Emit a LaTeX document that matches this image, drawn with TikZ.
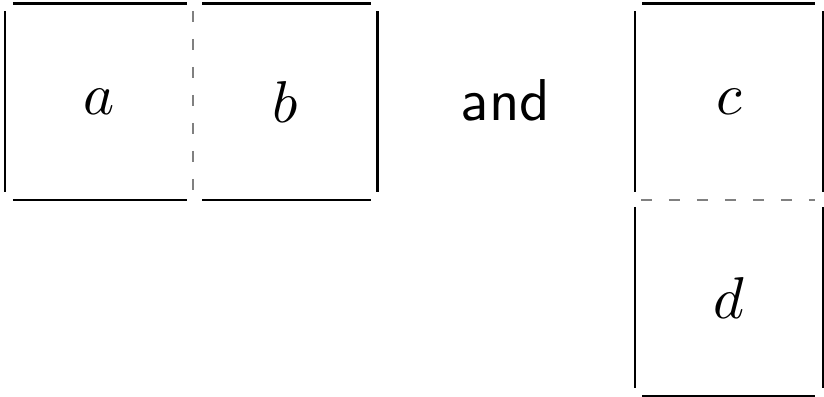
\documentclass[tikz,border=0pt]{standalone}
\usepackage{tikz}
\usetikzlibrary{calc,positioning}

\begin{document}
\begin{tikzpicture}[
    x=0.1695pt, y=-0.1695pt,
    cell/.style={inner sep=0pt, outer sep=0pt, minimum width=31.87pt, minimum height=33.3pt, font=\normalsize},
    side/.style={line width=0.5pt},
    seam/.style={line width=0.34pt, gray, dash pattern=on 1.86pt off 2.88pt}
  ]
    \useasboundingbox (0,0) rectangle (824,396);
    \node[cell] (a) at (99,101.75) {$a$};
    \node[cell, minimum width=31.3pt, right=0pt of a] (b) {$b$};
    \node[font=\sffamily] (and) at (505.5,100) {and};
    \node[cell] (c) at (729,101.75) {$c$};
    \node[cell, below=0pt of c] (d) {$d$};
    % a | b
    \draw[side] ($(a.north west)+(8,0)$) -- ($(a.north east)+(-6.5,0)$);
    \draw[side] ($(a.south west)+(8,0)$) -- ($(a.south east)+(-6.5,0)$);
    \draw[side] ($(a.north west)+(0,7.5)$) -- ($(a.south west)+(0,-8)$);
    \draw[seam] ($(a.north east)+(0,7.5)$) -- ($(a.south east)+(0,-7)$);
    \draw[side] ($(b.north west)+(9,0)$) -- ($(b.north east)+(-6.5,0)$);
    \draw[side] ($(b.south west)+(9,0)$) -- ($(b.south east)+(-6.5,0)$);
    \draw[side] ($(b.north east)+(0,7.5)$) -- ($(b.south east)+(0,-8)$);
    % c over d
    \draw[side] ($(c.north west)+(7,0)$) -- ($(c.north east)+(-8,0)$);
    \draw[side] ($(c.north west)+(0,7.5)$) -- ($(c.south west)+(0,-8)$);
    \draw[side] ($(c.north east)+(0,7.5)$) -- ($(c.south east)+(0,-8)$);
    \draw[seam] ($(c.south west)+(6,0)$) -- ($(c.south east)+(-8,0)$);
    \draw[side] ($(d.north west)+(0,7)$) -- ($(d.south west)+(0,-8)$);
    \draw[side] ($(d.north east)+(0,7)$) -- ($(d.south east)+(0,-8)$);
    \draw[side] ($(d.south west)+(7,0)$) -- ($(d.south east)+(-8,0)$);
  \end{tikzpicture}
\end{document}
